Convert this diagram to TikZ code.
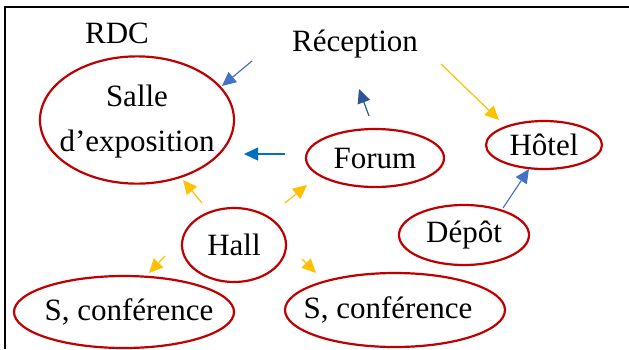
\documentclass[tikz,border=0pt]{standalone}
\usepackage{fontspec}
\setmainfont{Liberation Serif}
\usetikzlibrary{arrows.meta,shapes.geometric}
\definecolor{roomred}{HTML}{C00000}
\definecolor{blueA}{HTML}{4472C4}
\definecolor{blueB}{HTML}{2F5597}
\definecolor{blueC}{HTML}{0070C0}
\definecolor{gold}{HTML}{FFC000}
\begin{document}
\begin{tikzpicture}[x=1pt,y=-1pt,
  room/.style={ellipse, draw=roomred, line width=2.2pt, inner sep=0pt,
    font=\fontsize{31}{45}\selectfont},
  lbl/.style={font=\fontsize{31}{37}\selectfont, inner sep=0pt},
  arr/.style={line width=1.2pt, -{Triangle[length=14pt,width=13pt]}},
]
\useasboundingbox (0,0) rectangle (629,349);
\draw[line width=2.4pt] (629,7) -- (5,7) -- (5,349);

\node[lbl] (rdc) at (117,33) {RDC};
\node[lbl] (rec) at (355,44) {Réception};
\node[room, minimum width=194pt, minimum height=114pt] (salle) at (137,120)
  {\makebox[0pt]{\begin{tabular}{@{}c@{}}Salle\\d’exposition\end{tabular}}};
\node[room, minimum width=138pt, minimum height=58pt] (forum) at (375,158) {\makebox[0pt]{Forum}};
\node[room, minimum width=116pt, minimum height=48pt] (hotel) at (544,145) {\makebox[0pt]{Hôtel}};
\node[room, minimum width=104pt, minimum height=74pt] (hall) at (234,245) {\makebox[0pt]{Hall}};
\node[room, minimum width=130pt, minimum height=60pt] (depot) at (464,235) {\makebox[0pt]{Dépôt}};
\node[room, minimum width=220pt, minimum height=72pt] (confA) at (124,312) {\makebox[0pt]{\hspace{10pt}S, conférence}};
\node[room, minimum width=220pt, minimum height=74pt] (confB) at (395,310) {\makebox[0pt]{\hspace{-14pt}S, conférence}};

\coordinate (a1s) at (252,61);  \coordinate (a1e) at (222,86);
\coordinate (a2s) at (369,116); \coordinate (a2e) at (359,89);
\coordinate (a3s) at (285,154); \coordinate (a3e) at (244,154);
\coordinate (a4s) at (441,64);  \coordinate (a4e) at (499,120);
\coordinate (a5s) at (503,208); \coordinate (a5e) at (529,169);
\coordinate (a6s) at (202,203); \coordinate (a6e) at (183,180);
\coordinate (a7s) at (285,203); \coordinate (a7e) at (307,185);
\coordinate (a8s) at (165,256); \coordinate (a8e) at (149,273);
\coordinate (a9s) at (302,259); \coordinate (a9e) at (316,273);

\draw[arr, blueA] (a1s) -- (a1e);
\draw[arr, blueB] (a2s) -- (a2e);
\draw[arr, blueC] (a3s) -- (a3e);
\draw[arr, gold] (a4s) -- (a4e);
\draw[arr, blueA] (a5s) -- (a5e);
\draw[arr, gold] (a6s) -- (a6e);
\draw[arr, gold] (a7s) -- (a7e);
\draw[arr, gold] (a8s) -- (a8e);
\draw[arr, gold] (a9s) -- (a9e);
\end{tikzpicture}
\end{document}
